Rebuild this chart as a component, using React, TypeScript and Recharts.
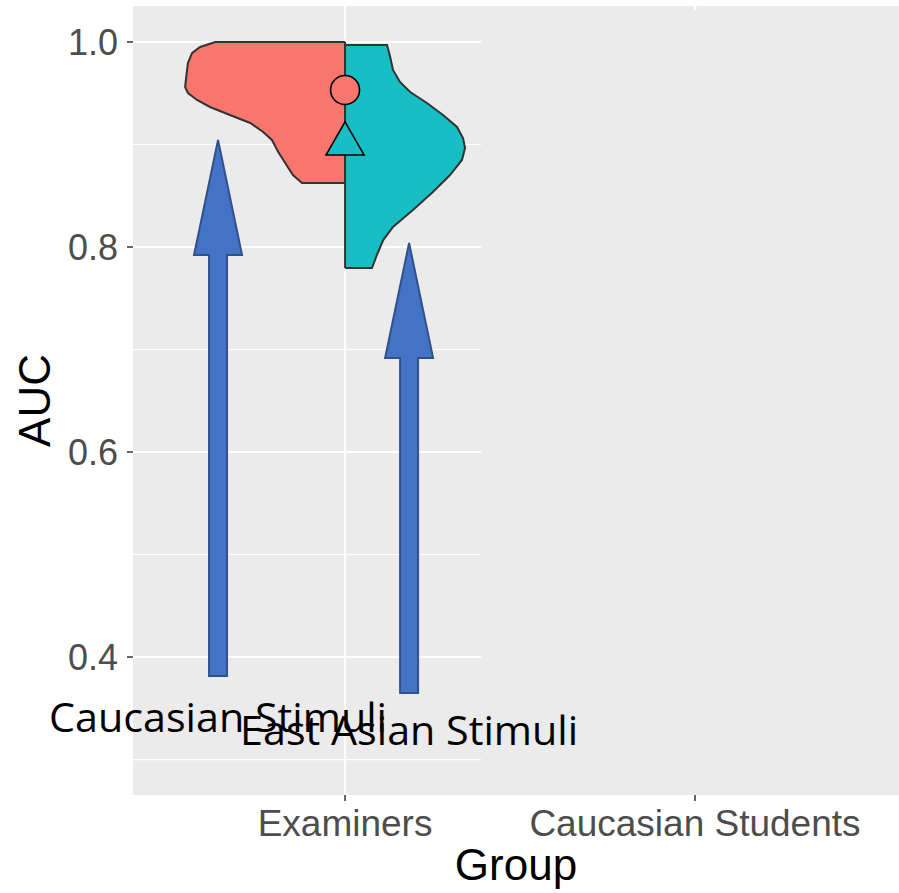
import {
  ComposedChart,
  Area,
  Scatter,
  XAxis,
  YAxis,
  CartesianGrid,
  ReferenceLine,
  ReferenceDot,
  Label,
} from "recharts";

// axis setup
const groups = ["Examiners", "Caucasian Students"];
const groupPos = [1, 2];
const yTicks = [0.4, 0.6, 0.8, 1.0];
const yMinor = [0.3, 0.5, 0.7, 0.9];

// half-violin outlines (AUC, half-width in group units)
const caucAuc = [1.0, 1.0, 0.9951, 0.9893, 0.9795, 0.9659, 0.9561, 0.9502, 0.9434, 0.9366, 0.9288, 0.921, 0.9122, 0.9044, 0.8927, 0.882, 0.8702, 0.8624, 0.8624];
const caucDensity = [0, 0.371, 0.414, 0.437, 0.449, 0.454, 0.457, 0.449, 0.423, 0.386, 0.329, 0.271, 0.234, 0.209, 0.191, 0.171, 0.149, 0.123, 0];
const eastAuc = [0.9971, 0.9971, 0.9854, 0.9727, 0.961, 0.9512, 0.9405, 0.9288, 0.9171, 0.9063, 0.8966, 0.8849, 0.8702, 0.8537, 0.8361, 0.8195, 0.8068, 0.7922, 0.7795, 0.7795];
const eastDensity = [0, 0.12, 0.129, 0.137, 0.157, 0.186, 0.234, 0.28, 0.32, 0.337, 0.343, 0.334, 0.3, 0.251, 0.194, 0.137, 0.109, 0.091, 0.077, 0];

// means
const meanCauc = 0.9532;
const meanEast = 0.9059;

// annotation arrows
const arrowX = [0.637, 1.183];
const arrowTip = [0.9044, 0.8039];
const arrowTail = [0.3815, 0.3649];
const labelAuc = [0.327, 0.314];
const arrowLabels = ["Caucasian Stimuli", "East Asian Stimuli"];

const X_DOMAIN: [number, number] = [0.394, 2.583];
const Y_DOMAIN: [number, number] = [0.2654, 1.0351];
const GRID_END = 1.389;

const RED = "#F8766D";
const TEAL = "#17BEC4";
const FONT = "'Liberation Sans', Arial, sans-serif";

const caucData = caucAuc.map((a, i) => ({ auc: a, range: [1 - caucDensity[i], 1] }));
const eastData = eastAuc.map((a, i) => ({ auc: a, range: [1, 1 + eastDensity[i]] }));

function Arrow({ x1, y1, y2 }: any) {
  // y1 = tail, y2 = tip
  const head = 115, hw = 24, sw = 9;
  const pts = [
    [x1, y2],
    [x1 + hw, y2 + head],
    [x1 + sw, y2 + head],
    [x1 + sw, y1],
    [x1 - sw, y1],
    [x1 - sw, y2 + head],
    [x1 - hw, y2 + head],
  ];
  return (
    <polygon
      points={pts.map((p) => p.join(",")).join(" ")}
      fill="#4472C4"
      stroke="#2F528F"
      strokeWidth={2}
    />
  );
}

export default function App() {
  return (
    <div style={{ position: "absolute", left: 0, top: 0, background: "#fff" }}>
      <ComposedChart
        width={899}
        height={893}
        layout="vertical"
        margin={{ top: 6, right: 0, bottom: 0, left: 0 }}
      >
        <CartesianGrid fill="#EBEBEB" horizontal={false} vertical={false} />
        <XAxis
          type="number"
          dataKey="x"
          domain={X_DOMAIN}
          allowDataOverflow
          ticks={groupPos}
          interval={0}
          tickFormatter={(v) => groups[groupPos.indexOf(v)] ?? ""}
          height={98}
          axisLine={false}
          tickSize={6}
          tickMargin={9}
          tickLine={{ stroke: "#333333", strokeWidth: 1.5 }}
          tick={{ fill: "#4D4D4D", fontSize: 37, fontFamily: FONT }}
        >
          <Label
            content={({ viewBox }: any) => (
              <text
                x={viewBox.x + viewBox.width / 2}
                y={viewBox.y + 85}
                textAnchor="middle"
                fontSize={44}
                fontFamily={FONT}
                fill="#000"
              >
                Group
              </text>
            )}
          />
        </XAxis>
        <YAxis
          type="number"
          dataKey="auc"
          domain={Y_DOMAIN}
          allowDataOverflow
          reversed
          ticks={yTicks}
          interval={0}
          tickFormatter={(v) => v.toFixed(1)}
          width={133}
          axisLine={false}
          tickSize={6}
          tickMargin={9}
          tickLine={{ stroke: "#333333", strokeWidth: 1.5 }}
          tick={{ fill: "#4D4D4D", fontSize: 36, fontFamily: FONT }}
        >
          <Label
            content={({ viewBox }: any) => (
              <text
                x={50}
                y={viewBox.y + viewBox.height / 2}
                transform={`rotate(-90, 50, ${viewBox.y + viewBox.height / 2})`}
                textAnchor="middle"
                fontSize={44}
                fontFamily={FONT}
                fill="#000"
              >
                AUC
              </text>
            )}
          />
        </YAxis>

        {yMinor.map((v) => (
          <ReferenceLine
            key={"mi" + v}
            segment={[{ x: X_DOMAIN[0], y: v }, { x: GRID_END, y: v }]}
            stroke="#FFFFFF"
            strokeWidth={1.2}
            zIndex={-50}
          />
        ))}
        {yTicks.map((v) => (
          <ReferenceLine
            key={"ma" + v}
            segment={[{ x: X_DOMAIN[0], y: v }, { x: GRID_END, y: v }]}
            stroke="#FFFFFF"
            strokeWidth={2.2}
            zIndex={-50}
          />
        ))}
        <ReferenceLine x={groupPos[0]} stroke="#FFFFFF" strokeWidth={2.2} zIndex={-50} />
        <ReferenceLine
          segment={[{ x: groupPos[1], y: Y_DOMAIN[1] }, { x: groupPos[1], y: Y_DOMAIN[1] - 0.004 }]}
          stroke="#FFFFFF"
          strokeWidth={2.2}
          zIndex={-50}
        />

        <Area
          data={caucData}
          dataKey="range"
          type="linear"
          fill={RED}
          fillOpacity={1}
          stroke="#333333"
          strokeWidth={2}
          dot={false}
          activeDot={false}
          isAnimationActive={false}
        />
        <Area
          data={eastData}
          dataKey="range"
          type="linear"
          fill={TEAL}
          fillOpacity={1}
          stroke="#333333"
          strokeWidth={2}
          dot={false}
          activeDot={false}
          isAnimationActive={false}
        />

        <Scatter
          data={[{ x: groupPos[0], auc: meanCauc }]}
          isAnimationActive={false}
          shape={(p: any) => (
            <circle cx={p.cx} cy={p.cy} r={14.5} fill={RED} stroke="#000" strokeWidth={1.6} />
          )}
        />
        <Scatter
          data={[{ x: groupPos[0], auc: meanEast }]}
          isAnimationActive={false}
          shape={(p: any) => (
            <polygon
              points={`${p.cx},${p.cy - 16.5} ${p.cx + 19},${p.cy + 16.5} ${p.cx - 19},${p.cy + 16.5}`}
              fill={TEAL}
              stroke="#000"
              strokeWidth={1.6}
            />
          )}
        />

        {arrowX.map((x, i) => (
          <ReferenceLine
            key={"ar" + i}
            segment={[{ x, y: arrowTail[i] }, { x, y: arrowTip[i] }]}
            zIndex={700}
            shape={(p: any) => <Arrow {...p} />}
          />
        ))}
        {arrowX.map((x, i) => (
          <ReferenceDot
            key={"lb" + i}
            x={x}
            y={labelAuc[i]}
            zIndex={710}
            shape={(p: any) => (
              <text
                x={p.cx}
                y={p.cy}
                textAnchor="middle"
                fontSize={40}
                fontFamily="'Open Sans', sans-serif"
                fill="#000"
                textLength={338}
                lengthAdjust="spacingAndGlyphs"
              >
                {arrowLabels[i]}
              </text>
            )}
          />
        ))}
      </ComposedChart>
    </div>
  );
}
